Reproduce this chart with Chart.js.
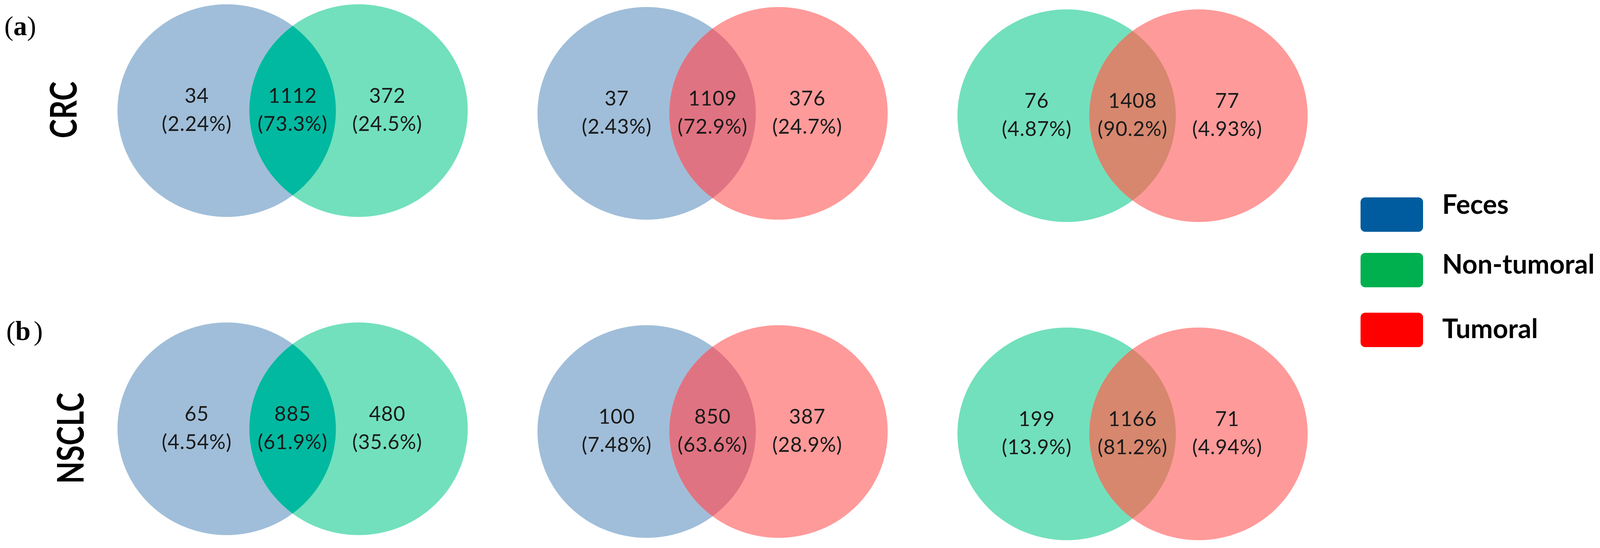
<!DOCTYPE html>
<html>
<head>
<meta charset="utf-8">
<script src="https://cdn.jsdelivr.net/npm/chart.js@4.4.1/dist/chart.umd.min.js"></script>
<style>
  html, body { margin: 0; padding: 0; background: #ffffff; }
  #wrap { width: 4110px; height: 1402px; }
  canvas { display: block; }
</style>
</head>
<body>
<div id="wrap"><canvas id="venn" width="4110" height="1402" style="width:4110px;height:1402px"></canvas></div>
<script>
// ---------------- data ----------------
const rowNames = ['CRC', 'NSCLC'];
const rowTags = ['a', 'b'];
const leftSets = ['Feces', 'Feces', 'Non-tumoral'];
const rightSets = ['Non-tumoral', 'Tumoral', 'Tumoral'];
// per panel: [left only, shared, right only]
const crcCounts = [[34, 1112, 372], [37, 1109, 376], [76, 1408, 77]];
const crcPercents = [[2.24, 73.3, 24.5], [2.43, 72.9, 24.7], [4.87, 90.2, 4.93]];
const nsclcCounts = [[65, 885, 480], [100, 850, 387], [199, 1166, 71]];
const nsclcPercents = [[4.54, 61.9, 35.6], [7.48, 63.6, 28.9], [13.9, 81.2, 4.94]];
const legendLabels = ['Feces', 'Non-tumoral', 'Tumoral'];

// ---------------- styles ----------------
const setFill = { 'Feces': '#A0BED9', 'Non-tumoral': '#72E0BC', 'Tumoral': '#FF9A9A' };
const overlapFill = {
  'Feces|Non-tumoral': '#00B9A0',
  'Feces|Tumoral': '#E07381',
  'Non-tumoral|Tumoral': '#D6876E'
};
const legendColors = { 'Feces': '#005C9E', 'Non-tumoral': '#00B04F', 'Tumoral': '#FF0000' };

// ---------------- layout (scale units) ----------------
const X_MIN = -0.6967, X_MAX = 3.1260;
const Y_MIN = -0.3661, Y_MAX = 1.3563;
const CIRCLE_OFFSET = 0.157;
const RX = 0.2600, RY = 0.3342;
const REGION_X = [-0.2282, 0, 0.2254];
const ROW_Y = [1, 0];
const PANEL_DROP = [-0.0086, 0, 0.0074];   // slight vertical drift of the panels in the figure

const rowCounts = [crcCounts, nsclcCounts];
const rowPercents = [crcPercents, nsclcPercents];

function fmtPct(v) { return '(' + v.toPrecision(3) + '%)'; }

const datasets = rowNames.map((name, r) => ({
  label: name,
  data: leftSets.flatMap((s, i) => REGION_X.map((dx, k) => ({
    x: i + dx,
    y: ROW_Y[r] - PANEL_DROP[i],
    count: rowCounts[r][i][k],
    pct: rowPercents[r][i][k]
  }))),
  pointRadius: 0,
  pointHoverRadius: 0,
  showLine: false
}));

function ellipsePath(ctx, cx, cy, rx, ry) {
  ctx.beginPath();
  ctx.ellipse(cx, cy, rx, ry, 0, 0, Math.PI * 2);
  ctx.closePath();
}

const vennPlugin = {
  id: 'venn',
  beforeDatasetsDraw(chart) {
    const { ctx, scales: { x, y } } = chart;
    const rx = x.getPixelForValue(RX) - x.getPixelForValue(0);
    const ry = y.getPixelForValue(0) - y.getPixelForValue(RY);
    ctx.save();
    rowNames.forEach((name, r) => {
      leftSets.forEach((ls, i) => {
        const rs = rightSets[i];
        const cy = y.getPixelForValue(ROW_Y[r] - PANEL_DROP[i]);
        const cxL = x.getPixelForValue(i - CIRCLE_OFFSET);
        const cxR = x.getPixelForValue(i + CIRCLE_OFFSET);
        ellipsePath(ctx, cxL, cy, rx, ry);
        ctx.fillStyle = setFill[ls];
        ctx.fill();
        ellipsePath(ctx, cxR, cy, rx, ry);
        ctx.fillStyle = setFill[rs];
        ctx.fill();
        ctx.save();
        ellipsePath(ctx, cxL, cy, rx, ry);
        ctx.clip();
        ellipsePath(ctx, cxR, cy, rx, ry);
        ctx.fillStyle = overlapFill[ls + '|' + rs];
        ctx.fill();
        ctx.restore();
      });
    });
    ctx.restore();
  },
  afterDatasetsDraw(chart) {
    const { ctx } = chart;
    ctx.save();
    ctx.fillStyle = '#1a1a1a';
    ctx.textAlign = 'center';
    ctx.textBaseline = 'middle';
    ctx.font = '52px Lato, "Open Sans", sans-serif';
    try { ctx.letterSpacing = '1px'; } catch (e) {}
    chart.data.datasets.forEach((ds, d) => {
      const meta = chart.getDatasetMeta(d);
      meta.data.forEach((pt, j) => {
        const raw = ds.data[j];
        ctx.fillText(String(raw.count), pt.x, pt.y - 37);
        ctx.fillText(fmtPct(raw.pct), pt.x, pt.y + 35);
      });
    });
    ctx.restore();
  },
  afterDraw(chart) {
    const { ctx, scales: { x, y } } = chart;
    ctx.save();
    try { ctx.letterSpacing = '0px'; } catch (e) {}
    // row labels (rotated)
    const rowLabelPos = [[196, -9], [214, 17]];
    rowNames.forEach((name, r) => {
      const cy = y.getPixelForValue(ROW_Y[r]) + rowLabelPos[r][1];
      ctx.save();
      ctx.translate(rowLabelPos[r][0], cy);
      ctx.rotate(-Math.PI / 2);
      ctx.scale(0.8, 1);
      ctx.fillStyle = '#000000';
      ctx.font = 'bold 93px Lato, "Open Sans", sans-serif';
      ctx.textAlign = 'center';
      ctx.textBaseline = 'alphabetic';
      ctx.fillText(name, 0, 0);
      ctx.restore();
    });
    // panel tags (a), (b)
    const tagPos = [[11, 90], [16, 870]];
    rowTags.forEach((t, r) => {
      let px = tagPos[r][0];
      const by = tagPos[r][1];
      ctx.fillStyle = '#000000';
      ctx.textAlign = 'left';
      ctx.textBaseline = 'alphabetic';
      ctx.font = '70px "Liberation Serif", "DejaVu Serif", serif';
      ctx.fillText('(', px, by);
      px += ctx.measureText('(').width;
      ctx.font = 'bold 70px "Liberation Serif", "DejaVu Serif", serif';
      ctx.fillText(t, px, by);
      px += ctx.measureText(t).width + (t === 'b' ? 8 : 0);
      ctx.font = '70px "Liberation Serif", "DejaVu Serif", serif';
      ctx.fillText(')', px, by);
    });
    // legend
    const boxX = 3483, boxW = 160, boxH = 88;
    const boxTops = [505, 647, 800];
    const textBase = [547, 700, 865];
    legendLabels.forEach((lab, k) => {
      ctx.beginPath();
      ctx.roundRect(boxX, boxTops[k], boxW, boxH, 12);
      ctx.fillStyle = legendColors[lab];
      ctx.fill();
      ctx.fillStyle = '#000000';
      ctx.font = 'bold 68px Lato, "Open Sans", sans-serif';
      ctx.textAlign = 'left';
      ctx.textBaseline = 'alphabetic';
      ctx.fillText(lab, 3692, textBase[k]);
    });
    ctx.restore();
  }
};

new Chart(document.getElementById('venn'), {
  type: 'scatter',
  data: { datasets },
  options: {
    responsive: false,
    devicePixelRatio: 1,
    animation: false,
    events: [],
    layout: { padding: 0 },
    scales: {
      x: { type: 'linear', min: X_MIN, max: X_MAX, display: false },
      y: { type: 'linear', min: Y_MIN, max: Y_MAX, display: false }
    },
    plugins: {
      legend: { display: false },
      tooltip: { enabled: false },
      title: { display: false }
    }
  },
  plugins: [vennPlugin]
});
</script>
</body>
</html>
